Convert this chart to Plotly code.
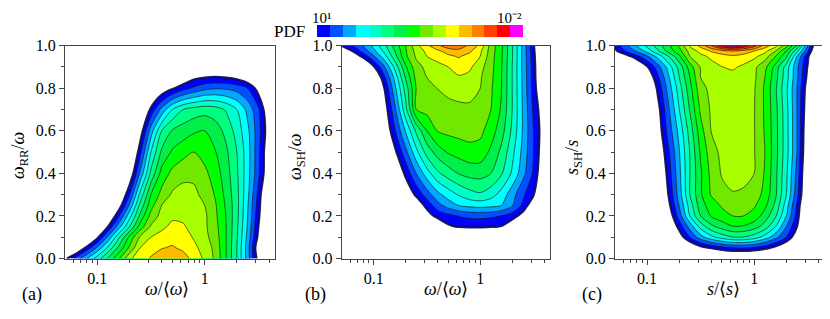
import plotly.graph_objects as go

# page is drawn with an 8 px body margin: figure is 8 px smaller, all pixel positions shifted
OFF = 8
W, H = 830 - OFF, 319 - OFF


def px(v):
    return (v - OFF) / W


def py(v):
    return 1 - (v - OFF) / H


# grid nodes: x (log axis, data units) and y
x_nodes = [0.05, 0.063, 0.079, 0.1, 0.126, 0.158, 0.2, 0.251, 0.316, 0.398, 0.501,
           0.631, 0.794, 1.0, 1.259, 1.585, 1.995, 2.512, 3.162, 3.981, 5.012]
y_nodes = [0, 0.05, 0.1, 0.15, 0.2, 0.25, 0.3, 0.4, 0.5, 0.6, 0.7, 0.8, 0.85, 0.9, 0.95, 0.975, 1.0]

# PDF level (contour band index) for panel (a): omega_RR/omega
pdf_a = [
    [0.2, 1.8, 3.4, 5.0, 6.6, 8.3, 10.3, 11.1, 11.6, 12.0, 12.2, 11.9, 11.2, 10.3, 9.3, 7.5, 5.5, 3.0, 0.0, -3.0, -6.0],
    [-2.5, -1.2, 0.7, 2.7, 4.7, 6.7, 8.7, 10.5, 11.1, 11.45, 11.6, 11.3, 10.75, 10.1, 9.2, 7.5, 5.5, 3.0, -0.5, -3.5, -6.5],
    [-5.0, -3.5, -1.8, 0.2, 2.75, 5.25, 7.75, 9.67, 10.5, 10.9, 11.15, 11.0, 10.4, 9.8, 9.0, 7.5, 5.6, 3.2, 0.2, -3.0, -6.0],
    [-6.0, -4.5, -3.0, -1.5, 0.5, 3.0, 5.5, 7.94, 9.62, 10.25, 10.75, 10.6, 10.17, 9.7, 8.83, 7.5, 5.7, 3.4, 0.5, -2.5, -5.5],
    [-7.0, -5.5, -4.0, -2.5, -1.2, 1.3, 4.1, 6.75, 8.85, 9.85, 10.3, 10.3, 10.0, 9.7, 8.7, 7.45, 5.8, 3.5, 0.8, -2.3, -5.3],
    [-8.0, -6.5, -5.0, -3.5, -2.0, -0.3, 2.65, 5.8, 8.1, 9.5, 9.9, 10.0, 9.85, 9.5, 8.6, 7.35, 5.85, 3.6, 1.0, -2.2, -5.2],
    [-9.0, -7.5, -6.0, -4.5, -3.0, -1.5, 1.5, 4.8, 7.5, 8.85, 9.65, 9.75, 9.7, 9.25, 8.4, 7.2, 5.8, 3.75, 1.2, -2.0, -5.0],
    [-10, -9, -7.5, -6, -4.5, -3, -0.7, 2.7, 5.75, 7.85, 8.8, 9.3, 9.3, 8.75, 8.0, 6.95, 5.65, 3.9, 1.75, -0.8, -4.5],
    [-11, -10, -9, -7.5, -6, -4.5, -2.2, 1.2, 4.5, 6.7, 7.65, 8.1, 8.5, 8.1, 7.55, 6.7, 5.5, 3.95, 1.8, -0.7, -4.5],
    [-12, -11, -10, -9, -7.5, -6, -3.7, -0.3, 3.0, 5.5, 6.6, 7.0, 7.35, 7.5, 7.0, 6.2, 5.1, 3.75, 1.9, -0.3, -4.0],
    [-13, -12, -11, -10, -9, -7.5, -5, -2.0, 0.75, 2.8, 4.5, 5.5, 5.9, 6.1, 5.95, 5.4, 4.5, 3.2, 1.7, -0.8, -4.5],
    [-14, -13, -12, -11, -10, -9, -7, -4.5, -2.0, -0.5, 0.35, 1.1, 1.7, 2.2, 2.4, 2.35, 2.1, 1.5, 0.0, -3.0, -6.0],
    [-15, -14, -13, -12, -11, -10, -8, -6, -4, -2.2, -1.2, -0.5, 0.25, 0.5, 0.6, 0.5, 0.2, -0.5, -2.0, -4.5, -7.0],
    [-16, -15, -14, -13, -12, -11, -9, -7, -5, -3.8, -2.8, -2.0, -1.4, -1.1, -1.0, -1.1, -1.4, -2.0, -3.5, -6, -8],
    [-17.5, -16.5, -15.5, -14.5, -13.5, -12.5, -10.5, -8.5, -6.5, -5.3, -4.3, -3.5, -2.9, -2.6, -2.5, -2.6, -2.9, -3.5, -5, -7.5, -9.5],
    [-18, -17, -16, -15, -14, -13, -11, -9, -7, -6, -5, -4.2, -3.6, -3.3, -3.2, -3.3, -3.6, -4.2, -5.7, -8.2, -10.2],
    [-19, -18, -17, -16, -15, -14, -12, -10, -8, -6.8, -5.8, -5, -4.4, -4.1, -4.0, -4.1, -4.4, -5, -6.5, -9, -11],
]

# panel (b): omega_SH/omega
pdf_b = [
    [-20, -18, -16, -14, -12, -10, -9, -8, -7.5, -7, -6.6, -6.3, -6.1, -6.0, -6.1, -6.3, -6.8, -7.5, -9, -11, -13],
    [-19, -17, -15, -13, -11, -9.5, -8, -7, -6.2, -5.5, -5.0, -4.6, -4.3, -4.2, -4.3, -4.6, -5.2, -6, -7.5, -9.5, -12],
    [-18, -16, -14, -12, -10, -8.5, -7, -5.8, -4.7, -3.7, -3.0, -2.5, -2.2, -2.1, -2.2, -2.5, -3.3, -4.3, -6, -8.5, -11],
    [-17, -15, -13, -11, -9, -7.5, -5.5, -3.8, -2.2, -0.9, 0.3, 0.6, 0.7, 0.7, 0.6, 0.45, -0.5, -2.2, -4, -6.5, -9],
    [-16, -14, -12, -10, -8, -4.5, -2.5, -1.2, -0.1, 0.85, 1.2, 1.55, 1.75, 1.8, 1.7, 1.45, 1.0, 0.0, -2.0, -4.5, -7.5],
    [-15, -13, -11, -9, -6, -3.5, -1.5, -0.4, 0.85, 2.1, 2.95, 3.55, 3.8, 3.9, 3.8, 3.5, 2.6, 1.3, -0.5, -3.5, -6.5],
    [-14, -12, -10, -8, -5, -2.5, -0.5, 0.7, 2.0, 3.2, 3.95, 4.6, 5.1, 5.35, 4.9, 4.1, 2.9, 1.7, 0.6, -2.5, -5.5],
    [-13, -11, -9, -6.5, -3.5, -0.9, 0.75, 2.5, 4.05, 5.3, 6.0, 6.55, 6.85, 6.9, 6.5, 5.6, 4.35, 2.85, 1.3, -0.8, -4.7],
    [-12, -10, -8, -5.5, -2, 0.2, 2.2, 4.2, 5.9, 6.95, 7.6, 7.9, 8.15, 8.1, 7.3, 6.25, 4.8, 3.2, 1.5, -0.5, -4.5],
    [-11, -9, -7, -4.5, -0.8, 1.4, 3.6, 5.7, 7.5, 8.55, 8.75, 8.85, 8.9, 8.75, 8.0, 6.9, 5.3, 3.4, 1.5, -0.3, -4.5],
    [-10, -8, -6, -3.5, -0.25, 2.25, 5.2, 8.5, 8.85, 9.05, 9.2, 9.3, 9.35, 9.15, 8.5, 7.35, 5.5, 3.4, 1.3, -0.5, -4.8],
    [-9, -7, -5, -2.5, 0.5, 3.2, 5.95, 8.55, 9.05, 9.52, 9.75, 9.85, 9.8, 9.5, 8.65, 7.5, 5.5, 3.3, 1.1, -1.5, -5.0],
    [-7, -5.5, -3.5, -1.2, 1.25, 3.8, 6.65, 8.8, 9.5, 9.9, 10.2, 10.4, 10.2, 9.6, 8.75, 7.5, 5.5, 3.3, 1.05, -2.0, -5.0],
    [-5, -3.5, -1.7, 0.3, 2.4, 4.75, 7.35, 9.15, 9.75, 10.15, 10.5, 10.85, 10.7, 9.85, 8.85, 7.55, 5.5, 3.25, 1.0, -2.0, -5.0],
    [-2.0, -0.6, 0.75, 2.35, 4.1, 6.1, 8.3, 9.65, 10.5, 10.9, 11.3, 11.6, 11.15, 10.5, 8.95, 7.6, 5.6, 3.25, 0.9, -2.3, -5.3],
    [-0.8, 0.5, 1.8, 3.2, 4.75, 6.5, 8.4, 9.85, 10.75, 11.3, 11.9, 12.2, 11.7, 10.7, 9.05, 7.65, 5.6, 3.25, 0.8, -2.4, -5.4],
    [0.5, 1.4, 2.5, 3.8, 5.2, 6.9, 8.5, 10.2, 11.3, 12.3, 13.1, 13.1, 12.25, 11.25, 9.1, 7.7, 5.6, 3.25, 0.65, -2.5, -5.5],
]

# panel (c): s_SH/s
pdf_c = [
    [-20, -18, -15, -12, -9, -6.5, -5, -4, -3.2, -2.6, -2.2, -2.0, -2.0, -2.2, -2.6, -3.2, -4.2, -5.5, -7.5, -10, -13],
    [-18, -16, -13, -10.5, -7, -4, -2.2, -1.0, 0.0, 0.6, 1.1, 1.45, 1.5, 1.3, 0.85, 0.1, -1.0, -2.5, -5, -8, -11],
    [-17, -15, -12, -9.5, -5.5, -2, -0.2, 1.5, 3.1, 4.2, 4.95, 5.45, 5.45, 5.0, 4.05, 2.85, 1.5, -0.5, -3.5, -6.5, -9.5],
    [-16, -14, -11, -8.5, -4.5, -1.1, 0.9, 2.9, 4.9, 6.25, 6.95, 7.45, 7.4, 6.95, 6.05, 4.5, 2.5, 0.5, -3, -6, -9],
    [-15, -13, -10, -7.5, -3.5, -0.5, 2.0, 4.5, 6.5, 7.6, 8.1, 8.5, 8.5, 8.1, 7.05, 5.65, 3.5, 1.1, -2.5, -5.5, -8.5],
    [-14, -12, -9.5, -7, -2.5, 0.1, 2.6, 4.95, 7.1, 7.95, 8.65, 9.0, 8.9, 8.65, 7.75, 6.25, 4.0, 1.35, -2, -5, -8],
    [-13, -11, -9, -6, -2, 0.5, 3.0, 5.5, 7.35, 8.6, 9.2, 9.45, 9.4, 9.1, 8.15, 6.65, 4.5, 1.85, -1.5, -4.5, -7.5],
    [-12, -10, -8, -5.5, -1.5, 0.95, 3.25, 5.5, 7.35, 8.8, 9.6, 9.75, 9.7, 9.5, 8.4, 6.75, 4.7, 2.15, -1.3, -4.3, -7.3],
    [-11, -9, -7, -4.5, -0.8, 1.3, 3.45, 5.55, 7.65, 9.1, 9.75, 9.85, 9.75, 9.55, 8.5, 6.85, 4.9, 2.5, -1.0, -4, -7],
    [-10, -8, -6, -3.5, -0.3, 1.9, 3.85, 5.95, 8.1, 9.55, 9.85, 9.9, 9.8, 9.55, 8.4, 6.85, 4.9, 2.5, -0.8, -4, -7],
    [-9, -7, -5, -2.5, 0.05, 2.3, 4.5, 6.6, 8.7, 9.65, 9.9, 9.95, 9.85, 9.55, 8.35, 6.8, 4.85, 2.5, -0.5, -3.8, -6.8],
    [-8, -6, -4, -1.5, 0.75, 2.9, 5.05, 7.15, 9.2, 9.75, 9.95, 10.0, 9.95, 9.6, 8.35, 6.65, 4.7, 2.5, -0.2, -3.5, -6.5],
    [-6, -4.5, -3, -0.7, 1.3, 3.3, 5.5, 7.5, 9.5, 9.85, 10.05, 10.15, 10.05, 9.7, 8.5, 6.85, 4.9, 2.7, 0.15, -3, -6],
    [-4, -2.8, -1.4, 0.35, 2.05, 3.9, 5.9, 8.0, 9.6, 10.05, 10.48, 10.65, 10.3, 9.75, 8.8, 7.1, 5.05, 2.75, 0.4, -2.5, -5.5],
    [-1.4, -0.1, 1.1, 2.35, 3.85, 5.5, 7.3, 9.5, 10.2, 10.75, 11.1, 11.3, 11.1, 10.75, 10.0, 8.5, 6.75, 3.5, 0.75, -2.5, -5.5],
    [0.2, 1.5, 2.6, 3.9, 5.35, 6.9, 8.15, 9.9, 10.85, 11.6, 12.1, 12.5, 12.1, 11.5, 10.8, 9.5, 7.5, 4.8, 1.7, -2, -5],
    [0.83, 2.25, 3.5, 4.75, 6.0, 7.25, 8.7, 10.65, 11.8, 13.5, 15.5, 16.3, 15.5, 14.0, 12.0, 10.85, 8.9, 6.5, 2.5, -1.5, -4.5],
]

band_colors = ['#0000FF', '#0050FF', '#00A8FF', '#00FFFF', '#00FFC8', '#00FF80',
               '#00F048', '#00FF00', '#70E800', '#A8FF00', '#FFFF00', '#FFBB00',
               '#FF8000', '#FF4000', '#FF0000', '#FF00FF']
cbar_levels = list(range(len(band_colors)))
cbar_labels = ['10¹', '10⁻²']

x_ticks = [0.1, 1]
x_ticktext = ['0.1', '1']
x_minor = [0.05, 0.06, 0.07, 0.08, 0.09, 0.2, 0.3, 0.4, 0.5, 0.6, 0.7, 0.8, 0.9, 2, 3, 4]
y_ticks = [0, 0.2, 0.4, 0.6, 0.8, 1.0]
y_ticktext = ['0.0', '0.2', '0.4', '0.6', '0.8', '1.0']
y_minor = [0.1, 0.3, 0.5, 0.7, 0.9]

# fill colorscale: white background + 16 bands, each centred on k/16
n = len(band_colors)
all_cols = ['#FFFFFF'] + band_colors
fill_scale = []
for i, c in enumerate(all_cols):
    lo = max(0.0, (i - 0.5) / n)
    hi = min(1.0, (i + 0.5) / n)
    fill_scale += [[lo, c], [hi, c]]

bar_scale = []
for i, c in enumerate(band_colors):
    bar_scale += [[i / n, c], [(i + 1) / n, c]]

FONT = 'Liberation Serif'
fig = go.Figure()

panels = [(pdf_a, 'x', 'y'), (pdf_b, 'x2', 'y2'), (pdf_c, 'x3', 'y3')]
for z, xa, ya in panels:
    fig.add_trace(go.Contour(
        x=x_nodes, y=y_nodes, z=z, xaxis=xa, yaxis=ya,
        autocontour=False,
        contours=dict(start=0.5, end=15.5, size=1, coloring='fill'),
        colorscale=fill_scale, showscale=False,
        line=dict(color='rgba(20,20,20,0.8)', width=0.8, smoothing=0.85),
        hoverinfo='skip'))
    fig.add_trace(go.Contour(
        x=x_nodes, y=y_nodes, z=z, xaxis=xa, yaxis=ya,
        autocontour=False,
        contours=dict(start=0.5, end=0.5, size=1, coloring='none'),
        showscale=False,
        line=dict(color='rgba(15,15,90,0.9)', width=2.2, smoothing=0.85),
        hoverinfo='skip'))

# discrete colour bar drawn as a one-row heatmap on its own small axes
fig.add_trace(go.Heatmap(
    z=[cbar_levels], x=cbar_levels, y=[0], xaxis='x4', yaxis='y4',
    colorscale=bar_scale, zmin=-0.5, zmax=n - 0.5, showscale=False,
    hoverinfo='skip', xgap=0, ygap=0))

x_dom = [(65, 275), (341.7, 550), (615, 824.3)]
y_dom = [py(258.5), py(45.7)]

axis_common = dict(showline=True, mirror=True, linecolor='#444', linewidth=1,
                   tickcolor='#444', showgrid=False, zeroline=False, automargin=False,
                   tickfont=dict(family=FONT, size=16, color='black'))
layout = dict(width=W, height=H, margin=dict(l=0, r=0, t=0, b=0, pad=0), autosize=False,
              paper_bgcolor='white', plot_bgcolor='white', showlegend=False)
for i, (x0, x1) in enumerate(x_dom):
    sfx = '' if i == 0 else str(i + 1)
    layout['xaxis' + sfx] = dict(domain=[px(x0), px(x1)], anchor='y' + sfx, type='log',
                                 range=[-1.3, 0.655], ticks='outside', ticklen=5,
                                 tickvals=x_ticks, ticktext=x_ticktext,
                                 minor=dict(ticks='outside', ticklen=3, tickvals=x_minor,
                                            tickcolor='#444'),
                                 **axis_common)
    layout['yaxis' + sfx] = dict(domain=y_dom, anchor='x' + sfx, range=[0, 1],
                                 ticks='outside', ticklen=5,
                                 tickvals=y_ticks, ticktext=y_ticktext,
                                 minor=dict(ticks='outside', ticklen=3, tickvals=y_minor,
                                            tickcolor='#444'),
                                 **axis_common)

layout['xaxis4'] = dict(domain=[px(317), px(523)], anchor='y4', range=[-0.5, n - 0.5],
                        visible=False, automargin=False, fixedrange=True)
layout['yaxis4'] = dict(domain=[py(37), py(25)], anchor='x4', range=[-0.5, 0.5],
                        visible=False, automargin=False, fixedrange=True)


def ann(text, x, y, size=18, angle=0, xanchor='center', yanchor='middle'):
    return dict(text=text, x=px(x), y=py(y), xref='paper', yref='paper',
                showarrow=False, textangle=angle, xanchor=xanchor, yanchor=yanchor,
                font=dict(family=FONT, size=size, color='black'))


annotations = [
    ann('<i>ω</i>/⟨<i>ω</i>⟩', 167, 289),
    ann('<i>ω</i>/⟨<i>ω</i>⟩', 446, 289),
    ann('<i>s</i>/⟨<i>s</i>⟩', 723, 289),
    ann('<i>ω</i><sub>RR</sub>/<i>ω</i>', 19, 156, size=18, angle=-90),
    ann('<i>ω</i><sub>SH</sub>/<i>ω</i>', 296, 157, size=18, angle=-90),
    ann('<i>s</i><sub>SH</sub>/<i>s</i>', 573, 158, size=18, angle=-90),
    ann('(a)', 32, 294),
    ann('(b)', 315, 294),
    ann('(c)', 592, 294),
    ann('PDF', 289, 31, size=17),
    ann(cbar_labels[0], 310, 18.5, size=15, xanchor='left'),
    ann(cbar_labels[1], 524, 18.5, size=15, xanchor='right'),
]
layout['annotations'] = annotations
fig.update_layout(**layout)
fig.write_html('out.html')
